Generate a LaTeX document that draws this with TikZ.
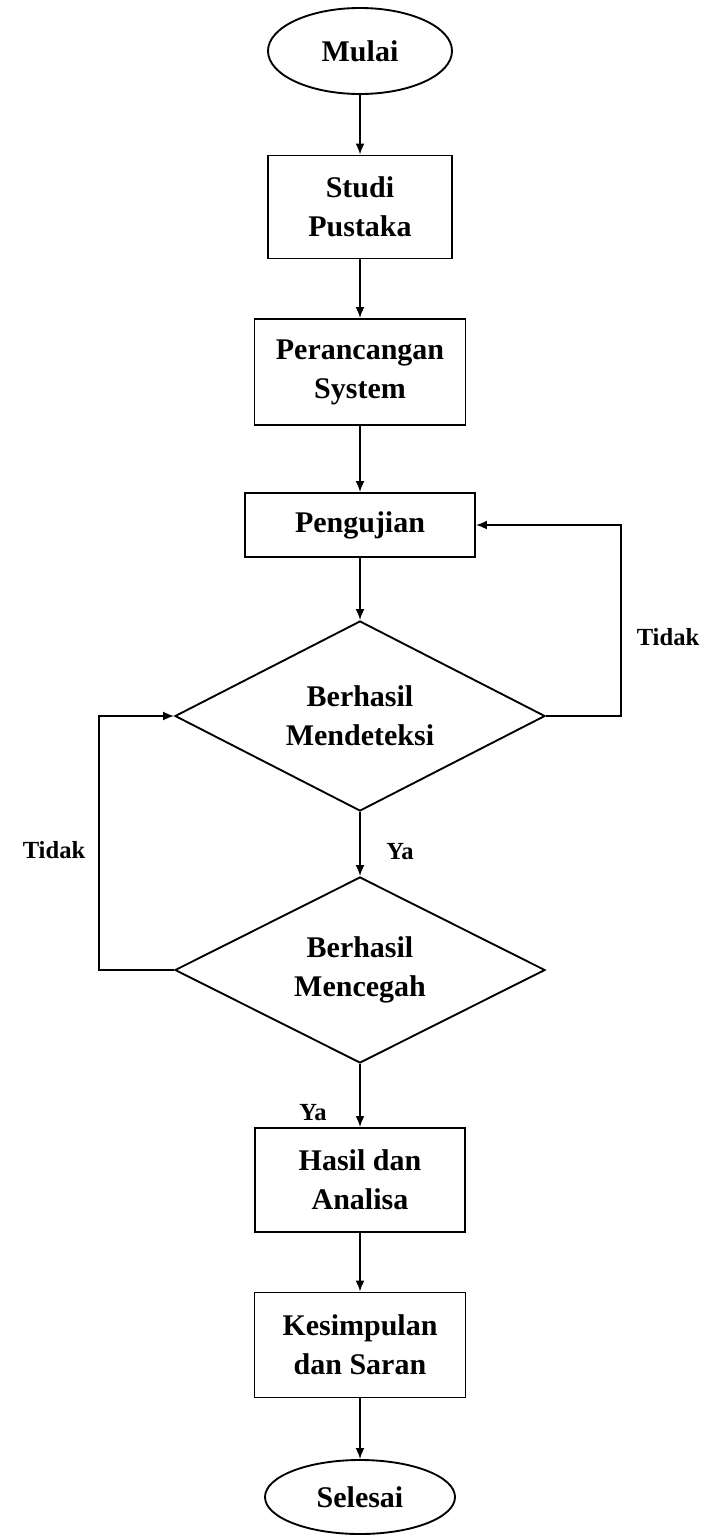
\documentclass[tikz,border=0pt]{standalone}
\usepackage{fontspec}
\setmainfont{Liberation Serif}
\usetikzlibrary{shapes.geometric,arrows.meta}
\begin{document}
\begin{tikzpicture}[x=0.03cm,y=-0.03cm,line width=1.6pt,
  every node/.style={font=\fontsize{25.6}{33.3}\selectfont\bfseries,align=center},
  terminal/.style={draw,ellipse,minimum width=5.52cm,minimum height=2.58cm,inner sep=0pt},
  process/.style={draw,rectangle,inner sep=0pt},
  decision/.style={draw,diamond,shape aspect=2,minimum width=11.1cm,minimum height=5.7cm,inner sep=0pt},
  answer/.style={font=\fontsize{21}{25}\selectfont\bfseries},
  arr/.style={-{Latex[length=3.3mm,width=2.7mm]}}]
\useasboundingbox (0,0) rectangle (706,1537);

\node[terminal] (mulai) at (360,51) {Mulai};
\node[process,minimum width=5.52cm,minimum height=3.09cm] (studi) at (360,207) {Studi\\Pustaka};
\node[process,minimum width=6.33cm,minimum height=3.18cm] (rancang) at (360,372) {Perancangan\\System};
\node[process,minimum width=6.9cm,minimum height=1.92cm] (uji) at (360,525) {Pengujian};
\node[decision] (deteksi) at (360,716) {Berhasil\\Mendeteksi};
\node[decision,minimum height=5.58cm] (cegah) at (360,970) {Berhasil\\Mencegah};
\node[process,minimum width=6.3cm,minimum height=3.12cm] (hasil) at (360,1180) {Hasil dan\\Analisa};
\node[process,minimum width=6.33cm,minimum height=3.15cm] (simpul) at (360,1345) {Kesimpulan\\dan Saran};
\node[terminal,minimum width=5.7cm,minimum height=2.22cm] (selesai) at (360,1497) {Selesai};

\draw[arr] (mulai) -- (studi);
\draw[arr] (studi) -- (rancang);
\draw[arr] (rancang) -- (uji);
\draw[arr] (uji) -- (deteksi);
\draw[arr] (deteksi) -- (cegah);
\draw[arr] (cegah) -- (hasil);
\draw[arr] (hasil) -- (simpul);
\draw[arr] (simpul) -- (selesai);

\draw[arr] (deteksi.east) -- ++(75,0) |- (uji.east);
\draw[arr] (cegah.west) -- ++(-75,0) |- (deteksi.west);

\node[answer] (tidak1) at (668,637) {Tidak};
\node[answer] (tidak2) at (54,850) {Tidak};
\node[answer] (ya1) at (400,852) {Ya};
\node[answer] (ya2) at (313,1113) {Ya};
\end{tikzpicture}
\end{document}
